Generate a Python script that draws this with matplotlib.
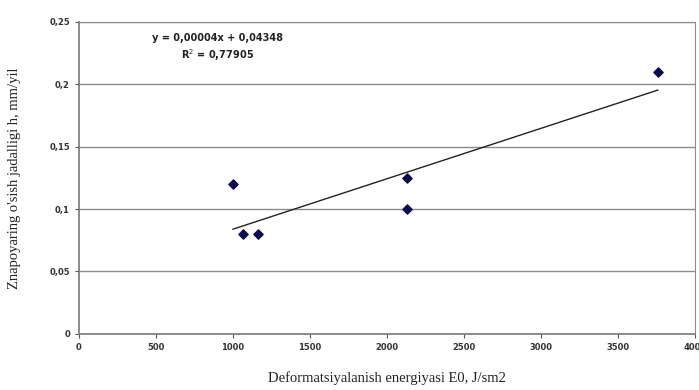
import numpy as np
import matplotlib.pyplot as plt

# measured points
energy = [1000, 1065, 1160, 2130, 2130, 3760]
rate = [0.12, 0.08, 0.08, 0.125, 0.10, 0.21]

x_ticks = [0, 500, 1000, 1500, 2000, 2500, 3000, 3500, 4000]
y_ticks = [0, 0.05, 0.1, 0.15, 0.2, 0.25]
y_tick_labels = ['0', '0,05', '0,1', '0,15', '0,2', '0,25']
eq_text = 'y = 0,00004x + 0,04348'
r2_text = 'R$^2$ = 0,77905'

fig = plt.figure(figsize=(6.99, 3.90), dpi=100)
ax = fig.add_axes([0.113, 0.144, 0.881, 0.800])

# gridlines
for yt in y_ticks[1:]:
    ax.axhline(yt, color='#8c8c8c', lw=1.0, zorder=0)

# linear trend over the data range
coef = np.polyfit(energy, rate, 1)
xs = np.array([min(energy), max(energy)])
ax.plot(xs, np.polyval(coef, xs), color='#222222', lw=1.0, zorder=2)

ax.scatter(energy, rate, marker='D', s=22, color='#0a0a50', zorder=3)

ax.set_xlim(0, 4000)
ax.set_ylim(0, 0.25)
ax.set_xticks(x_ticks)
ax.set_xticklabels([str(v) for v in x_ticks])
ax.set_yticks(y_ticks)
ax.set_yticklabels(y_tick_labels)
ax.tick_params(labelsize=6, colors='#555555', length=3, width=0.8)
for lab in ax.get_xticklabels() + ax.get_yticklabels():
    lab.set_fontweight('bold')
    lab.set_color('#333333')

for side in ['top', 'right']:
    ax.spines[side].set_color('#8c8c8c')
for side in ['left', 'bottom']:
    ax.spines[side].set_color('#777777')
    ax.spines[side].set_linewidth(1.2)

ax.text(0.225, 0.94, eq_text, transform=ax.transAxes, ha='center', fontsize=7,
        fontweight='bold', color='#222222')
ax.text(0.225, 0.88, r2_text, transform=ax.transAxes, ha='center', fontsize=7,
        fontweight='bold', color='#222222')

ax.set_xlabel('Deformatsiyalanish energiyasi E0, J/sm2', family='Liberation Serif',
              fontsize=10.5, labelpad=14, color='#222222')
ax.set_ylabel("Znapoyaring o'sish jadalligi h, mm/yil", family='Liberation Serif',
              fontsize=10.5, labelpad=20, color='#222222')

fig.savefig('out.png', dpi=100)
